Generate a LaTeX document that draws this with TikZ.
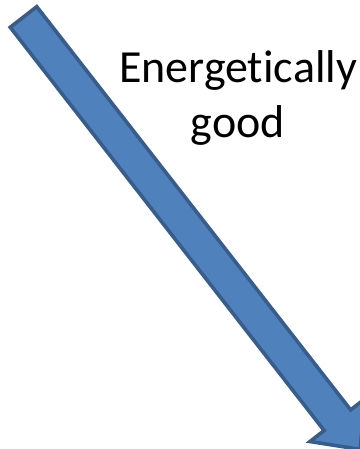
\documentclass[tikz,border=0pt]{standalone}
\usepackage{fontspec}
\setmainfont{Carlito}[RawFeature={-liga;-clig;-dlig}]
\usepackage{tikz}
\definecolor{arrowFill}{HTML}{4F81BD}
\definecolor{arrowLine}{HTML}{385D8A}
\begin{document}
\begin{tikzpicture}
[x=1pt,y=1pt,
blockArrow/.style={fill=arrowFill,draw=arrowLine,line width=3.6pt,line join=miter},
energyLabel/.style={align=center,inner sep=0pt,font=\fontsize{46}{55}\selectfont}]
\useasboundingbox (0,0) rectangle (359,449);
\begin{scope}[shift={(23.5,432)},rotate=-52.1]
\draw[blockArrow] (0,16.8) -- (511,16.8) -- (511,34.7) -- (548,0) -- (511,-34.7) -- (511,-16.8) -- (0,-16.8) -- cycle;
\end{scope}
\node[energyLabel,anchor=base] (goodText) at (238,311) {Energetically\\good};
\end{tikzpicture}
\end{document}
